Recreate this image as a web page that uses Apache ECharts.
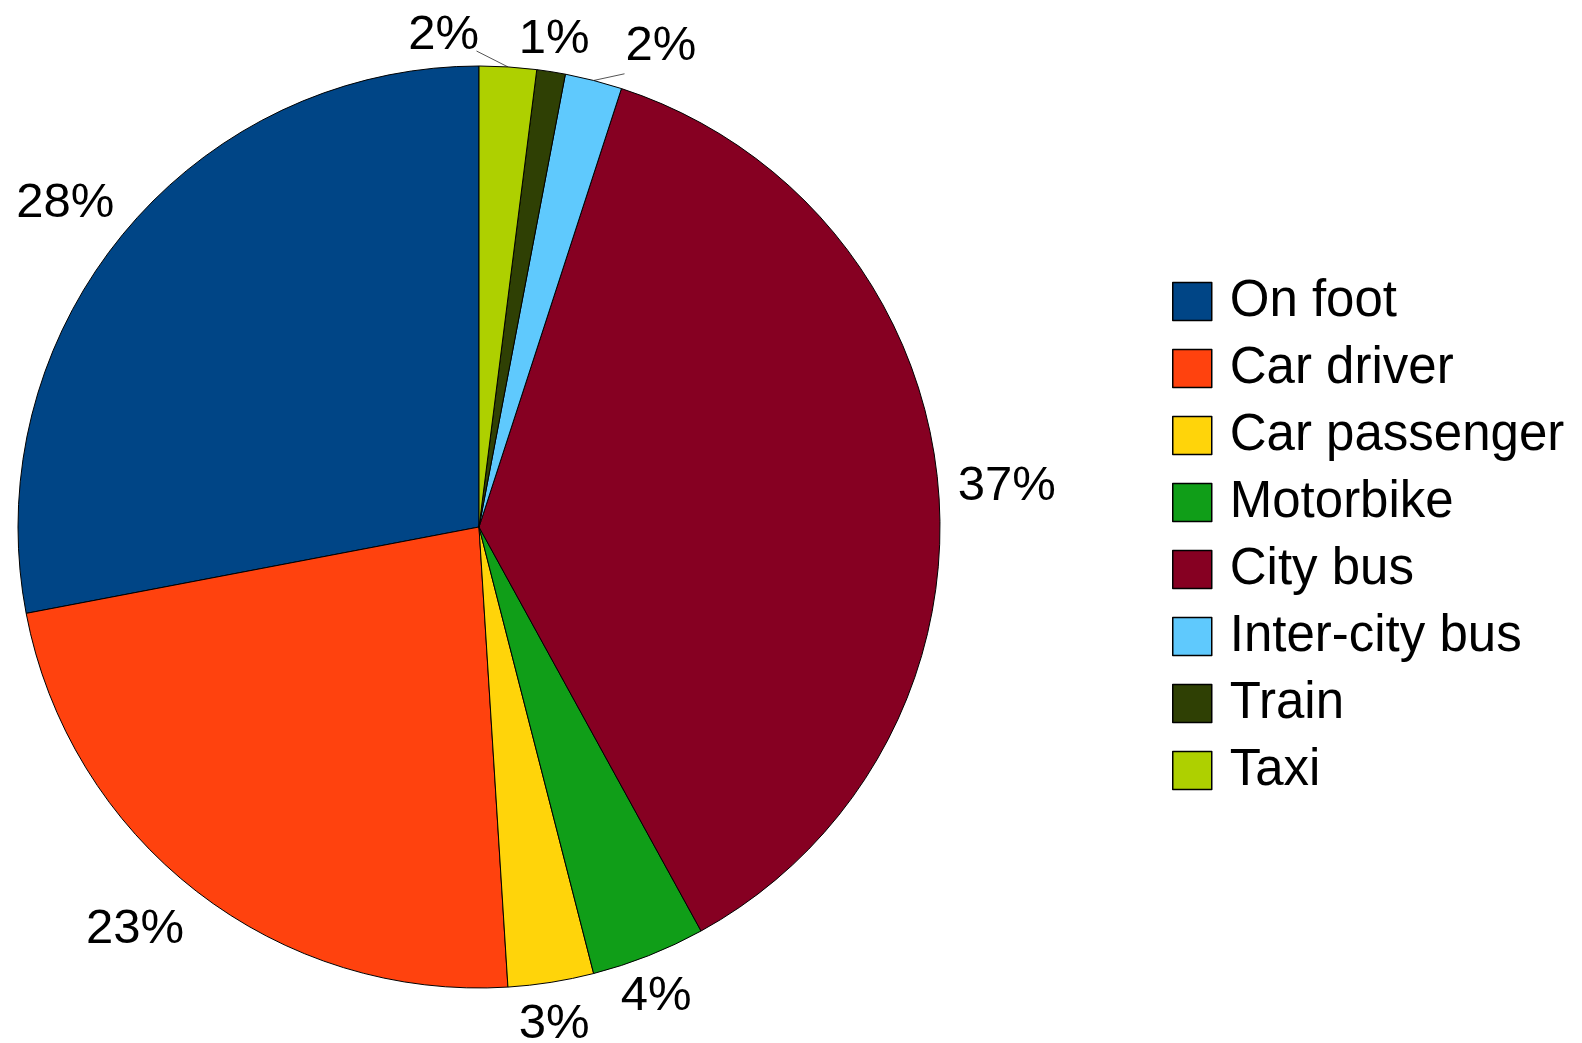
<!DOCTYPE html>
<html>
<head>
<meta charset="utf-8">
<script src="https://cdn.jsdelivr.net/npm/echarts@6/dist/echarts.min.js"></script>
<style>
  html, body { margin: 0; padding: 0; background: #fff; }
  #chart { width: 1582px; height: 1043px; }
</style>
</head>
<body>
<div id="chart"></div>
<script>
// transport modes and their share of trips (%)
var modes = ['On foot', 'Car driver', 'Car passenger', 'Motorbike', 'City bus', 'Inter-city bus', 'Train', 'Taxi'];
var shares = [28, 23, 3, 4, 37, 2, 1, 2];
var colors = ['#004586', '#ff420e', '#ffd40a', '#109e18', '#860022', '#5fc9fd', '#2f4004', '#aed000'];

var cx = 479, cy = 527, R = 461;
var total = shares.reduce(function (a, b) { return a + b; }, 0);

// mid angle of a slice in degrees, counter-clockwise, starting at 12 o'clock
function midAngle(i) {
  var cum = 0;
  for (var k = 0; k < i; k++) cum += shares[k];
  return 90 + 360 * (cum + shares[i] / 2) / total;
}

// small slices at the top: [angle shift, extra distance] for their labels
var nudge = { 'Inter-city bus': [-6.8, 22], 'Taxi': [7.8, 0] };

// which side of the label box faces the pie, by 45 degree sector
var anchors = [
  ['left', 'middle'], ['left', 'bottom'], ['center', 'bottom'], ['right', 'bottom'],
  ['right', 'middle'], ['right', 'top'], ['center', 'top'], ['left', 'top']
];

var chart = echarts.init(document.getElementById('chart'));

var option = {
  backgroundColor: '#fff',
  animation: false,
  color: colors,
  legend: {
    orient: 'vertical',
    left: 1172,
    top: 276,
    padding: 0,
    icon: 'rect',
    itemWidth: 39,
    itemHeight: 38,
    itemGap: 16,
    selectedMode: false,
    itemStyle: { borderColor: '#000', borderWidth: 1.5 },
    textStyle: {
      fontFamily: 'Liberation Sans',
      fontSize: 51,
      lineHeight: 50,
      color: '#000',
      padding: [0, 0, 0, 13]
    },
    data: modes
  },
  series: [{
    type: 'pie',
    center: [cx, cy],
    radius: R,
    clockwise: false,
    startAngle: 90,
    silent: true,
    avoidLabelOverlap: false,
    minShowLabelAngle: 0,
    percentPrecision: 0,
    itemStyle: { borderColor: '#000', borderWidth: 1 },
    label: {
      show: true,
      position: 'outside',
      formatter: '{d}%',
      fontFamily: 'Liberation Sans',
      fontSize: 49,
      lineHeight: 34,
      color: '#000'
    },
    labelLine: { show: false },
    labelLayout: function (p) {
      var i = p.dataIndex;
      var name = modes[i];
      var a = midAngle(i);
      var n = nudge[name] || [0, 0];
      var deg = a + n[0];
      var b = deg * Math.PI / 180;
      var r = R + 20 + n[1];
      var s = ((Math.round(deg / 45) % 8) + 8) % 8;
      // upper-left labels sit a little closer to the pie
      var dx = s === 3 ? 6 : 0, dy = s === 3 ? 0 : 5;
      var out = {
        x: cx + r * Math.cos(b) + dx,
        y: cy - r * Math.sin(b) + dy,
        align: anchors[s][0],
        verticalAlign: anchors[s][1]
      };
      if (nudge[name]) {
        var a0 = a * Math.PI / 180;
        var m = (a + n[0] / 2) * Math.PI / 180;
        var p0 = [cx + R * Math.cos(a0), cy - R * Math.sin(a0)];
        var p1 = [cx + (R + 15) * Math.cos(m), cy - (R + 15) * Math.sin(m)];
        out.labelLinePoints = [p0, p1, p1];
      }
      return out;
    },
    data: modes.map(function (name, i) {
      return {
        name: name,
        value: shares[i],
        labelLine: {
          show: !!nudge[name],
          lineStyle: { color: '#555', width: 1 }
        }
      };
    })
  }]
};

chart.setOption(option);
</script>
</body>
</html>
